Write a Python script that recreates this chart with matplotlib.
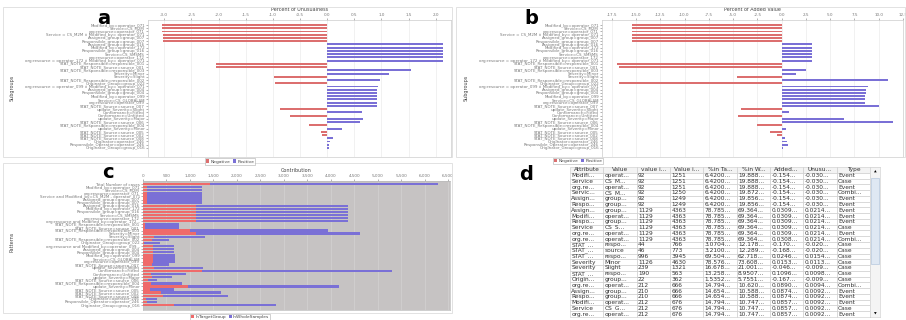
import matplotlib
matplotlib.use("Agg")
import numpy as np
import matplotlib.pyplot as plt
from matplotlib.patches import Rectangle, Patch

# subgroup labels shared by panels a and b
sub_labels = [
    "Modified_by=operator_071", "Service=CS_M2M", "org:resource=operator_071",
    "Service = CS_M2M \u2227 Modified_by= operator_071", "Assigned_group=group_007",
    "Responsible_group=group_007", "Assigned_group=group_016", "Modified_by=operator_172",
    "Responsible_group=group_016", "Service=CS_SMSMS", "org:resource=operator_172",
    "org:resource = operator_172 \u2227 Modified_by= operator_071",
    "STAT_NOTE_Responsible=responsible_001", "STAT_NOTE_Source=source_001",
    "STAT_NOTE_Responsible=responsible_003", "Severity=Minor", "Severity=Slight",
    "STAT_NOTE_Responsible=responsible_002", "Originator_Group=group_022",
    "org:resource = operator_099 \u2227 Modified_by= operator_071",
    "Assigned_group=group_004", "Responsible_group=group_004", "Modified_by=operator_099",
    "Service=CS_GLOBALSM", "org:resource=operator_099", "STAT_NOTE_Source=source_007",
    "update_Severity=Slight", "Conformance=Fitted", "Conformance=Unfitted",
    "update_Severity=Major", "STAT_NOTE_Source=source_006",
    "STAT_NOTE_Responsible=responsible_004", "update_Severity=Minor",
    "STAT_NOTE_Source=source_005", "STAT_NOTE_Source=source_002",
    "STAT_NOTE_Source=source_008", "Originator=operator_246",
    "Responsible_Operator=operator_246", "Originator_Group=group_016",
]

# panel a: percent of unusualness
unusualness = [-3.04, -3.04, -3.04, -3.03, -3.03, -3.03,
               2.14, 2.14, 2.14, 2.14, 2.14, 2.14,
               -2.04, -2.05, 1.54, 1.13, -0.98, 0.98, -0.96, 0.94,
               0.92, 0.92, 0.92, 0.92, 0.92, 0.91,
               -0.87, 0.64, -0.68, 0.66, 0.61, -0.34, 0.28, -0.12, -0.10,
               0.10, 0.05, 0.04, 0.03]
ticks_a = [-3.0, -2.5, -2.0, -1.5, -1.0, -0.5, 0.0, 0.5, 1.0, 1.5, 2.0]

# panel b: percent of added value
added_value = [-15.4, -15.4, -15.4, -15.4, -15.4, -15.4,
               3.09, 3.09, 3.09, 3.09, 3.09, 3.09,
               -17.0, -16.8, 2.46, 1.53, -4.6, 10.96, -16.7, 8.90,
               8.74, 8.74, 8.57, 8.57, 8.57, 10.0,
               -4.2, 0.75, -4.5, 6.4, 11.5, -2.5, 0.4, -1.2, -0.5,
               0.35, 0.55, 0.65, 0.1]
ticks_b = [-17.5, -15.0, -12.5, -10.0, -7.5, -5.0, -2.5, 0.0, 2.5, 5.0, 7.5, 10.0, 12.5]

# panel c: contribution
pat_labels = [
    "Total Number of cases", "Modified_by=operator_071", "Service=CS_M2M",
    "org:resource=operator_071", "Service and Modified_by=CS_M2M - operator_071",
    "Assigned_group=group_007", "Responsible_group=group_007", "Assigned_group=group_016",
    "Modified_by=operator_172", "Responsible_group=group_016", "Service=CS_SMSMS",
    "org:resource=operator_172", "org:resource and Modified_by=operator_172...",
    "STAT_NOTE_Responsible=responsible_001", "STAT_NOTE_Source=source_001",
    "STAT_NOTE_Responsible=responsible_003", "Severity=Minor", "Severity=Slight",
    "STAT_NOTE_Responsible=responsible_002", "Originator_Group=group_022",
    "org:resource and Modified_by=operator_099...", "Assigned_group=group_004",
    "Responsible_group=group_004", "Modified_by=operator_099", "Service=CS_GLOBALSM",
    "org:resource=operator_099", "STAT_NOTE_Source=source_007", "update_Severity=Slight",
    "Conformance=Fitted", "Conformance=Unfitted", "update_Severity=Major",
    "STAT_NOTE_Source=source_006", "STAT_NOTE_Responsible=responsible_004",
    "update_Severity=Minor", "STAT_NOTE_Source=source_005", "STAT_NOTE_Source=source_002",
    "STAT_NOTE_Source=source_008", "Originator=operator_246",
    "Responsible_Operator=operator_246", "Originator_Group=group_016",
]
in_target = [1433, 92, 92, 92, 92, 92, 92, 1129, 1129, 1129, 1129, 1129, 1129,
             44, 46, 996, 1126, 239, 190, 22, 212, 210, 210, 212, 212, 212,
             183, 238, 1250, 165, 182, 108, 170, 969, 141, 374, 420, 73, 75, 650]
in_whole = [6290, 1251, 1251, 1251, 1250, 1249, 1249, 4363, 4363, 4363, 4363, 4363, 4363,
            766, 773, 3945, 4630, 1321, 563, 362, 666, 666, 666, 676, 676, 676,
            554, 1285, 5312, 923, 618, 305, 838, 4176, 653, 1669, 1818, 305, 305, 2827]
ticks_c = [0, 500, 1000, 1500, 2000, 2500, 3000, 3500, 4000, 4500, 5000, 5500, 6000, 6500]

# panel d: table
headers = ["Attribute", "Value", "value i...", "Value i...", "%in Ta...", "%in W...",
           "Added...", "Unusu...", "Type"]
attr_col = ["Modifi...", "Service", "org.re...", "Servic...", "Assign...", "Respo...",
            "Assign...", "Modifi...", "Respo...", "Service", "org.re...", "org.re...",
            "STAT_...", "STAT_...", "STAT_...", "Severity", "Severity", "STAT_...",
            "Origin...", "org.re...", "Assign...", "Respo...", "Modifi...", "Service", "org.re..."]
value_col = ["operat...", "CS_M...", "operat...", "CS_M...", "group...", "group...",
             "group...", "operat...", "group...", "CS_S...", "operat...", "operat...",
             "respo...", "source", "respo...", "Minor", "Slight", "respo...",
             "group...", "operat...", "group...", "group...", "operat...", "CS_G...", "operat..."]
pct_target = ["6.4200...", "6.4200...", "6.4200...", "6.4200...", "6.4200...", "6.4200...",
              "78.785...", "78.785...", "78.785...", "78.785...", "78.785...", "78.785...",
              "3.0704...", "3.2100...", "69.504...", "78.576...", "16.678...", "13.258...",
              "1.5352...", "14.794...", "14.654...", "14.654...", "14.794...", "14.794...", "14.794..."]
pct_whole = ["19.888...", "19.888...", "19.888...", "19.872...", "19.856...", "19.856...",
             "69.364...", "69.364...", "69.364...", "69.364...", "69.364...", "69.364...",
             "12.178...", "12.289...", "62.718...", "73.608...", "21.001...", "8.9507...",
             "5.7551...", "10.620...", "10.588...", "10.588...", "10.747...", "10.747...", "10.747..."]
added_col = ["-0.154...", "-0.154...", "-0.154...", "-0.154...", "-0.154...", "-0.154...",
             "0.0309...", "0.0309...", "0.0309...", "0.0309...", "0.0309...", "0.0308...",
             "-0.170...", "-0.168...", "0.0246...", "0.0153...", "-0.046...", "0.1096...",
             "-0.167...", "0.0890...", "0.0874...", "0.0874...", "0.0857...", "0.0857...", "0.0857..."]
unus_col = ["-0.030...", "-0.030...", "-0.030...", "-0.030...", "-0.030...", "-0.030...",
            "0.0214...", "0.0214...", "0.0214...", "0.0214...", "0.0214...", "0.0214...",
            "-0.020...", "-0.020...", "0.0154...", "0.0113...", "-0.009...", "0.0098...",
            "-0.009...", "0.0094...", "0.0092...", "0.0092...", "0.0092...", "0.0092...", "0.0092..."]
type_col = ["Event", "Case", "Event", "Combi...", "Event", "Event", "Event", "Event", "Event",
            "Case", "Event", "Combi...", "Case", "Case", "Case", "Case", "Case", "Case", "Case",
            "Combi...", "Event", "Event", "Event", "Case", "Event"]

W, H = 906, 320
RED = "#dc6f6f"
BLUE = "#7a70d6"
TXT = "#444444"

fig = plt.figure(figsize=(W / 100, H / 100), dpi=100)


def box(x0, y0, x1, y1):
    # pixel rectangle (top-left origin) -> figure fraction
    return [x0 / W, 1 - y1 / H, (x1 - x0) / W, (y1 - y0) / H]


def fx(x, y):
    return x / W, 1 - y / H


def frame(x0, y0, x1, y1):
    fig.patches.append(Rectangle(fx(x0, y1), (x1 - x0) / W, (y1 - y0) / H,
                                 transform=fig.transFigure, fill=False,
                                 edgecolor="#dddddd", lw=0.6))


def legend(cx, cy, handles):
    leg = fig.legend(handles=handles, loc="center", bbox_to_anchor=fx(cx, cy), ncol=2,
                     fontsize=3.2, frameon=True, fancybox=False, handlelength=0.7,
                     handleheight=0.7, handletextpad=0.3, columnspacing=0.6,
                     borderpad=0.25, labelcolor=TXT)
    leg.get_frame().set_edgecolor("#999999")
    leg.get_frame().set_linewidth(0.4)


def subgroup_panel(rect, values, xlim, ticks, title):
    ax = fig.add_axes(box(*rect))
    y = np.arange(len(sub_labels))
    colors = [RED if v < 0 else BLUE for v in values]
    ax.barh(y, values, height=0.6, color=colors, edgecolor="none", zorder=3)
    ax.set_ylim(len(sub_labels) - 1 + 2.8, -1.55)
    ax.set_xlim(*xlim)
    ax.xaxis.tick_top()
    ax.xaxis.set_label_position("top")
    ax.set_xticks(ticks)
    ax.set_xticklabels([f"{t:.1f}" for t in ticks], fontsize=3.0, color="#666666")
    ax.set_xlabel(title, fontsize=3.5, labelpad=1.2, color=TXT)
    ax.set_yticks(y)
    ax.set_yticklabels(sub_labels, fontsize=2.9, color=TXT)
    ax.tick_params(axis="both", length=1.2, width=0.4, pad=1, colors="#777777")
    ax.grid(axis="x", color="#ebebeb", lw=0.5, zorder=0)
    for s in ax.spines.values():
        s.set_color("#cccccc")
        s.set_linewidth(0.5)
    return ax


neg_pos = [Patch(facecolor=RED, label="Negative"), Patch(facecolor=BLUE, label="Positive")]

# panel a
frame(3, 7, 452, 157)
subgroup_panel((148, 20, 451, 157), unusualness, (-3.3, 2.28), ticks_a, "Percent of Unusualness")
fig.text(*fx(12, 88), "Subgroups", rotation=90, fontsize=3.5, color=TXT, ha="center", va="center")
fig.text(*fx(104, 18), "a", fontsize=14, weight="bold", ha="center", va="center")
legend(230, 161.5, neg_pos)

# panel b
frame(456, 7, 905, 157)
subgroup_panel((602, 20, 903, 157), added_value, (-18.5, 12.35), ticks_b, "Percent of Added Value")
fig.text(*fx(466, 88), "Subgroups", rotation=90, fontsize=3.5, color=TXT, ha="center", va="center")
fig.text(*fx(531, 18), "b", fontsize=14, weight="bold", ha="center", va="center")
legend(578, 161, neg_pos)

# panel c
frame(3, 163, 452, 313)
axc = fig.add_axes(box(143, 181, 450, 310))
axc.set_facecolor("#c6c3c3")
yc = np.arange(len(pat_labels))
axc.barh(yc, in_whole, height=0.78, color=BLUE, edgecolor="none", zorder=3)
axc.barh(yc, in_target, height=0.78, color="#ef6a6a", edgecolor="none", zorder=4)
axc.set_xlim(0, 6540)
axc.set_ylim(len(pat_labels) - 1 + 1.6, -0.97)
axc.xaxis.tick_top()
axc.xaxis.set_label_position("top")
axc.set_xticks(ticks_c)
axc.set_xticklabels([f"{t:,}" for t in ticks_c], fontsize=3.0, color="#666666")
axc.set_xlabel("Contribution", fontsize=3.5, labelpad=1.2, color=TXT)
axc.set_yticks(yc)
axc.set_yticklabels(pat_labels, fontsize=2.9, color=TXT)
axc.tick_params(axis="both", length=1.2, width=0.4, pad=1, colors="#777777")
axc.grid(axis="x", color="#d4d2d2", lw=0.5, zorder=0)
for s in axc.spines.values():
    s.set_color("#bbbbbb")
    s.set_linewidth(0.5)
fig.text(*fx(12, 242), "Patterns", rotation=90, fontsize=3.5, color=TXT, ha="center", va="center")
fig.text(*fx(108, 173), "c", fontsize=14, weight="bold", ha="center", va="center")
legend(230, 317, [Patch(facecolor="#ef6a6a", label="InTargetGroup"),
                  Patch(facecolor=BLUE, label="InWholeSamples")])

# panel d
fig.text(*fx(526, 174), "d", fontsize=14, weight="bold", ha="center", va="center")
axt = fig.add_axes(box(570, 167, 870, 317))
axt.axis("off")
rows = list(zip(attr_col, value_col, in_target[1:26], in_whole[1:26], pct_target,
                pct_whole, added_col, unus_col, type_col))
tbl = axt.table(cellText=[[str(v) for v in r] for r in rows], colLabels=headers,
                bbox=[0, 0, 1, 1], cellLoc="left")
tbl.auto_set_font_size(False)
tbl.set_fontsize(4.2)
for (r, c), cell in tbl.get_celld().items():
    cell.set_edgecolor("#c8c8c8")
    cell.set_linewidth(0.4)
    cell.PAD = 0.04
    cell.get_text().set_color("#333333")
    if r == 0:
        cell.set_facecolor("#f3f3f3")
        cell.get_text().set_ha("center")
        cell._loc = "center"

# scrollbar
axs = fig.add_axes(box(870, 167, 880, 317))
axs.set_xlim(0, 1)
axs.set_ylim(1, 0)
axs.set_xticks([])
axs.set_yticks([])
axs.set_facecolor("#f4f4f4")
for s in axs.spines.values():
    s.set_color("#c8c8c8")
    s.set_linewidth(0.4)
axs.add_patch(Rectangle((0.12, 0.075), 0.76, 0.57, facecolor="#dfe8f3",
                        edgecolor="#a9bfd9", lw=0.4))
axs.text(0.5, 0.03, "\u25b2", fontsize=2.5, ha="center", va="center")
axs.text(0.5, 0.975, "\u25bc", fontsize=2.5, ha="center", va="center")

fig.savefig("out.png", dpi=100)
